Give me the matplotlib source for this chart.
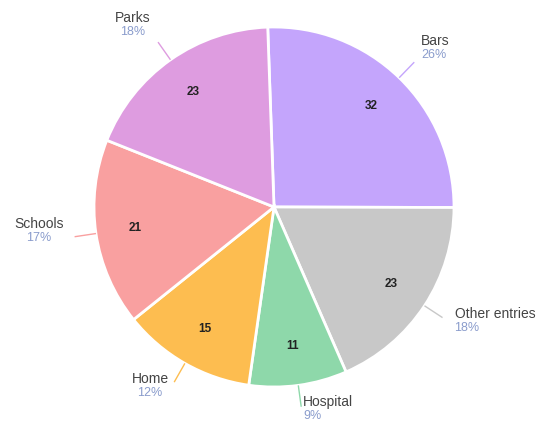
import numpy as np
import matplotlib
matplotlib.use("Agg")
import matplotlib.pyplot as plt

plt.rcParams['font.family'] = ['Liberation Sans', 'DejaVu Sans']

categories = ["Bars", "Other entries", "Hospital", "Home", "Schools", "Parks"]
values = [32, 23, 11, 15, 21, 23]
colors = ["#c4a5fc", "#c8c8c8", "#8ed8aa", "#fdbd50", "#f9a0a0", "#de9ce0"]

W, H = 541, 421
fig = plt.figure(figsize=(W / 100, H / 100), dpi=100)
ax = fig.add_axes([0, 0, 1, 1])

cx, cy, R = 274, H - 207, 180
total = sum(values)

wedges, _, autotexts = ax.pie(
    values, colors=colors, startangle=92, counterclock=False,
    center=(cx, cy), radius=R, frame=True,
    autopct=lambda p: f"{round(p * total / 100)}", pctdistance=0.78,
    wedgeprops=dict(edgecolor="white", linewidth=2),
    textprops=dict(fontsize=8.5, color="#222222", fontweight="semibold"))
ax.set_xlim(0, W)
ax.set_ylim(0, H)
ax.axis('off')

# label layout: (dx, dy) offset in pixels of name text from leader end, ha
layout = {
    "Bars": (7, 21, 'left'),
    "Other entries": (12, 4, 'left'),
    "Hospital": (2, 5, 'left'),
    "Home": (-24, 3, 'center'),
    "Schools": (-36, 13, 'center'),
    "Parks": (-25, 24, 'center'),
}

for w, name, v, col in zip(wedges, categories, values, colors):
    mid = np.deg2rad((w.theta1 + w.theta2) / 2)
    x0, y0 = cx + R * np.cos(mid), cy + R * np.sin(mid)
    x1, y1 = cx + 1.12 * R * np.cos(mid), cy + 1.12 * R * np.sin(mid)
    ax.plot([x0, x1], [y0, y1], color=col, lw=1, solid_capstyle='butt')
    dx, dy, ha = layout[name]
    tx, ty = x1 + dx, y1 + dy
    ax.text(tx, ty, name, fontsize=10, color="#444444", ha=ha, va='center')
    ax.text(tx, ty - 14, f"{round(100 * v / total)}%", fontsize=9,
            color="#8a9ccc", ha=ha, va='center')

fig.savefig("out.png", dpi=100, facecolor="white")
